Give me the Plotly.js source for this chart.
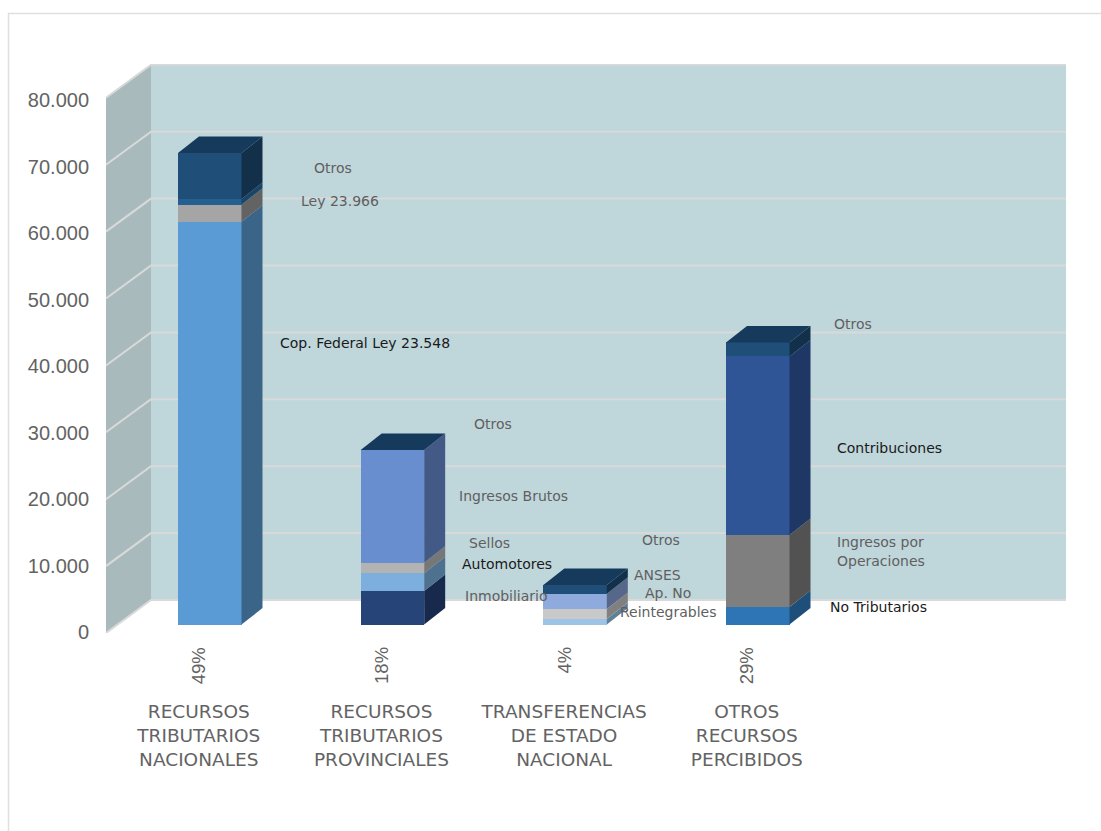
<!DOCTYPE html>
<html><head><meta charset="utf-8">
<script src="https://cdn.plot.ly/plotly-3.0.1.min.js"></script>
<style>html,body{margin:0;padding:0;background:#fff;overflow:hidden}#chart{width:1101px;height:831px}</style>
</head><body><div id="chart"></div>
<script>
// ---- data ----
const categories = ['RECURSOS<br>TRIBUTARIOS<br>NACIONALES','RECURSOS<br>TRIBUTARIOS<br>PROVINCIALES','TRANSFERENCIAS<br>DE ESTADO<br>NACIONAL','OTROS<br>RECURSOS<br>PERCIBIDOS'];
const shares = ['49%','18%','4%','29%'];
const nacionales = [60220, 2540, 850, 6880];
const provinciales = [5020, 2650, 1590, 16850];
const transferencias = [840, 1500, 2290, 1300];
const otrosRecursos = [2620, 10760, 26710, 2090];
const yTicks = [0,10000,20000,30000,40000,50000,60000,70000,80000];

// ---- styles: [front, side] ----
const stylesNacionales = [['#5b9bd5','#3a6589'],['#a5a5a5','#636363'],['#255e91','#1a4468'],['#1f4e79','#13304b']];
const stylesProvinciales = [['#264478','#172a4e'],['#7cafde','#4f7190'],['#b3b3b3','#777777'],['#698ed0','#435a87']];
const stylesTransferencias = [['#9dc3e6','#5f8099'],['#c9c9c9','#808080'],['#8faadc','#56678a'],['#1f4e79','#13304b']];
const stylesOtros = [['#2e75b6','#1e4e7a'],['#7f7f7f','#525252'],['#2f5597','#1e3764'],['#1f4e79','#13304b']];
const topColor = '#163a5c';
const stacks = [nacionales, provinciales, transferencias, otrosRecursos];
const styles = [stylesNacionales, stylesProvinciales, stylesTransferencias, stylesOtros];

// ---- geometry of the frame (page pixels) ----
const plotL=106, plotR=1066, plotT=64, plotB=633;
const pxPerCat=182.67, firstBarPx=209.75, pxPer10k=66.9, barBasePx=624.6;
const tickPer10k=66.5, tickZeroPx=632.2;
const xMin=(plotL-firstBarPx)/pxPerCat, xMax=(plotR-firstBarPx)/pxPerCat;
const yMax=(plotB-plotT)/pxPer10k*10000;
const y2Min=-(plotB-barBasePx)/pxPer10k*10000, y2Max=(barBasePx-plotT)/pxPer10k*10000;
const y3Min=(tickZeroPx-plotB)/tickPer10k*10000, y3Max=(tickZeroPx-plotT)/tickPer10k*10000;
const xOfPx=p=>(p-firstBarPx)/pxPerCat, yOfPx=p=>(plotB-p)/pxPer10k*10000;
const barW=63.5/pxPerCat, depX=21/pxPerCat, depY=16.5/pxPer10k*10000;
const wallX=45/pxPerCat, wallY=33/pxPer10k*10000;
const labelShift=-11/pxPerCat;

const traces=[];
const off={showlegend:false,hoverinfo:'skip',mode:'lines'};
// walls
const wx0=xMin, wx1=xMin+wallX;
traces.push({...off,x:[wx0,wx1,wx1,wx0,wx0],y:[0,wallY,wallY+80000,80000,0],fill:'toself',fillcolor:'#a9babd',line:{width:0},xaxis:'x',yaxis:'y'});
traces.push({...off,x:[wx1,xMax,xMax,wx1,wx1],y:[wallY,wallY,wallY+80000,wallY+80000,wallY],fill:'toself',fillcolor:'#bfd6db',line:{width:0},xaxis:'x',yaxis:'y'});
// gridlines
const gx=[],gy=[];
yTicks.forEach(v=>{gx.push(wx0,wx1,xMax,null);gy.push(v,v+wallY,v+wallY,null);});
traces.push({...off,x:gx,y:gy,line:{color:'#d9d9d9',width:2},cliponaxis:false,xaxis:'x',yaxis:'y'});
// bars
stacks.forEach((vals,i)=>{
  let base=0;
  vals.forEach((v,j)=>{
    traces.push({type:'bar',x:[i],y:[v],width:barW,marker:{color:styles[i][j][0],line:{width:0}},showlegend:false,hoverinfo:'skip',xaxis:'x',yaxis:'y2'});
    const r=i+barW/2, t=base+v;
    traces.push({...off,x:[r,r+depX,r+depX,r,r],y:[base,base+depY,t+depY,t,base],fill:'toself',fillcolor:styles[i][j][1],line:{width:0},xaxis:'x',yaxis:'y2'});
    base=t;
  });
  const l=i-barW/2, r=i+barW/2;
  traces.push({...off,x:[l,r,r+depX,l+depX,l],y:[base,base,base+depY,base+depY,base],fill:'toself',fillcolor:topColor,line:{width:0},xaxis:'x',yaxis:'y2'});
});
// holder trace for the value axis that carries the tick labels
traces.push({showlegend:false,hoverinfo:'skip',mode:'markers',marker:{opacity:0,size:1},x:yTicks.map(()=>xMin),y:yTicks,xaxis:'x',yaxis:'y3'});

// ---- text labels: [text, centre x px, centre y px, colour] ----
const grey='#5f5f5f', dark='#1a1a1a';
const labels=[
 ['Otros',333,168,grey],['Ley 23.966',340,201,grey],['Cop. Federal Ley 23.548',365,343,dark],
 ['Otros',493,424,grey],['Ingresos Brutos',513,496,grey],['Sellos',489,543,grey],['Automotores',507,564,dark],['Inmobiliario',506,596,grey],
 ['Otros',661,540,grey],['ANSES',657,575,grey],['Ap. No',668,593,grey],['Reintegrables',668,612,grey],['Ley 26.075',662,641,grey],['e Inc.Docente',672,660,grey],
 ['Otros',853,324,grey],['Contribuciones',889,448,dark],['Ingresos por',880,542,grey],['Operaciones',881,561,grey],['No Tributarios',878,607,dark]
];
const labelFont='"DejaVu Sans", sans-serif';
const annotations=labels.map(a=>({text:a[0],x:xOfPx(a[1]),y:yOfPx(a[2]),xref:'x',yref:'y',showarrow:false,xanchor:'center',yanchor:'middle',font:{family:labelFont,size:14,color:a[3]}}));
shares.forEach((s,i)=>annotations.push({text:s,x:i+labelShift,y:0,xref:'x',yref:'y',showarrow:false,textangle:-90,xanchor:'center',yanchor:'top',yshift:-12,font:{family:'"Liberation Sans",Arial,sans-serif',size:18.5,color:'#636363'}}));

// frame
const pxP=p=>(p-plotL)/(plotR-plotL), pyP=p=>(plotB-p)/(plotB-plotT);
const shapes=[
 {type:'line',xref:'paper',yref:'paper',x0:pxP(8),x1:pxP(1110),y0:pyP(13.5),y1:pyP(13.5),line:{color:'#e0e0e0',width:1.5}},
 {type:'line',xref:'paper',yref:'paper',x0:pxP(8.5),x1:pxP(8.5),y0:pyP(13),y1:pyP(840),line:{color:'#e0e0e0',width:1.5}}
];

const layout={
 width:1101,height:831,margin:{l:plotL,r:1101-plotR,t:plotT,b:831-plotB,pad:0},
 paper_bgcolor:'#fff',plot_bgcolor:'rgba(0,0,0,0)',showlegend:false,barmode:'stack',bargap:0,separators:',.',hovermode:false,
 font:{family:labelFont,color:'#5f5f5f'},
 xaxis:{range:[xMin,xMax],showgrid:false,zeroline:false,showline:false,ticks:'',tickmode:'array',tickvals:categories.map((c,i)=>i+labelShift),ticktext:categories,tickangle:0,ticklabelstandoff:65,tickfont:{family:labelFont,size:18.5,color:'#636363'}},
 yaxis:{range:[0,yMax],visible:false,showgrid:false,zeroline:false},
 yaxis2:{range:[y2Min,y2Max],overlaying:'y',visible:false,showgrid:false,zeroline:false},
 yaxis3:{range:[y3Min,y3Max],overlaying:'y',side:'left',showgrid:false,zeroline:false,showline:false,ticks:'',tickmode:'array',tickvals:yTicks,tickformat:',d',ticklabelstandoff:16,tickfont:{family:'"Liberation Sans",Arial,sans-serif',size:20,color:'#636363'}},
 annotations,shapes
};
Plotly.newPlot('chart',traces,layout,{displayModeBar:false,staticPlot:true});
</script></body></html>
